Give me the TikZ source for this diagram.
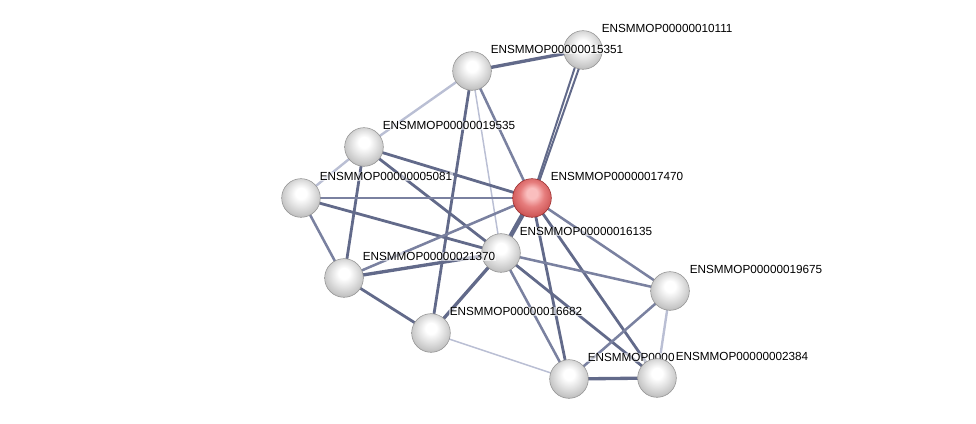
\documentclass[tikz,border=0pt]{standalone}
\usepackage{fontspec}
\setmainfont{Liberation Sans}
\definecolor{edark}{RGB}{98,106,138}
\definecolor{emid}{RGB}{122,129,160}
\definecolor{elite}{RGB}{186,191,212}
\definecolor{ghi}{RGB}{255,255,255}
\definecolor{gmid}{RGB}{228,228,228}
\definecolor{glow}{RGB}{196,196,196}
\definecolor{grim}{RGB}{145,145,145}
\definecolor{rhi}{RGB}{250,190,190}
\definecolor{rmid}{RGB}{230,125,125}
\definecolor{rlow}{RGB}{208,90,90}
\definecolor{rrim}{RGB}{150,40,40}
\pgfdeclareradialshading{graysphere}{\pgfpoint{0bp}{7bp}}{color(0bp)=(ghi); color(7bp)=(ghi); color(16bp)=(gmid); color(26bp)=(glow); color(33bp)=(grim); color(50bp)=(grim)}
\pgfdeclareradialshading{redsphere}{\pgfpoint{0bp}{7bp}}{color(0bp)=(rhi); color(7bp)=(rhi); color(16bp)=(rmid); color(26bp)=(rlow); color(33bp)=(rrim); color(50bp)=(rrim)}
\pgfdeclarelayer{edgelayer}
\pgfsetlayers{edgelayer,main}
\begin{document}
\begin{tikzpicture}[x=0.75pt,y=-0.75pt,
  ball/.style={circle, minimum size=29pt, inner sep=0pt, shading=graysphere, draw=grim, line width=0.4pt},
  redball/.style={ball, shading=redsphere, draw=rrim},
  lbl/.style={anchor=base west, font=\fontsize{8.8}{10}\selectfont, inner sep=0.4pt, fill=white, fill opacity=0.6, text opacity=1},
  ethick/.style={draw=edark, line width=2.5pt},
  edk/.style={draw=edark, line width=2.1pt},
  emed/.style={draw=emid, line width=1.9pt},
  elight/.style={draw=elite, line width=1.8pt},
  ethin/.style={draw=elite, line width=1.1pt}]
\useasboundingbox (0,0) rectangle (976,424);
% nodes
\node[ball] (A) at (583,50) {};
\node[ball] (B) at (472,71) {};
\node[ball] (C) at (364,147) {};
\node[ball] (D) at (301,198) {};
\node[ball] (F) at (501,253) {};
\node[redball] (E) at (532,198) {};
\node[ball] (G) at (344,278) {};
\node[ball] (I) at (431,333) {};
\node[ball] (H) at (670,291) {};
\node[ball] (J) at (569,379) {};
% labels
\node[lbl] (lA) at (601,32.5) {ENSMMOP00000010111};
\node[lbl] (lB) at (490,53.5) {ENSMMOP00000015351};
\node[lbl] (lC) at (382,129.5) {ENSMMOP00000019535};
\node[lbl] (lD) at (319,180.5) {ENSMMOP00000005081};
\node[lbl] (lG) at (362,260.5) {ENSMMOP00000021370};
\node[lbl] (lI) at (449,315.5) {ENSMMOP00000016682};
\node[lbl] (lF) at (519,235.5) {ENSMMOP00000016135};
\node[lbl] (lE) at (550,181) {ENSMMOP00000017470};
\node[lbl] (lH) at (689,273.5) {ENSMMOP00000019675};
\node[lbl] (lJ) at (587,361.5) {ENSMMOP0000};
\node[ball] (K) at (657,378) {};
\node[lbl, fill opacity=1] (lK) at (675,360.5) {ENSMMOP00000002384};
% edges
\begin{pgfonlayer}{edgelayer}
\draw[ethick] (A.center) -- (B.center);
\draw[draw=edark, line width=1.5pt] ([xshift=-1.8pt]A.center) -- (E.center);
\draw[draw=edark, line width=1.5pt] ([xshift=1.8pt]A.center) -- ([xshift=1pt]E.center);
\draw[elight] (B.center) -- (C.center);
\draw[elight] (C.center) -- (D.center);
\draw[edk] (B.center) -- (I.center);
\draw[emed] (B.center) -- (E.center);
\draw[ethin] (B.center) -- (F.center);
\draw[edk] (C.center) -- (E.center);
\draw[edk] (C.center) -- (F.center);
\draw[edk] (C.center) -- (G.center);
\draw[emed] (D.center) -- (E.center);
\draw[edk] (D.center) -- (F.center);
\draw[emed] (D.center) -- (G.center);
\draw[draw=edark, line width=3.4pt] (E.center) -- (F.center);
\draw[emed] (E.center) -- (G.center);
\draw[emed] (E.center) -- (H.center);
\draw[edk] (E.center) -- (J.center);
\draw[edk] (E.center) -- (K.center);
\draw[ethick] (F.center) -- (G.center);
\draw[emed] (F.center) -- (H.center);
\draw[ethick] (F.center) -- (I.center);
\draw[emed] (F.center) -- (J.center);
\draw[edk] (F.center) -- (K.center);
\draw[edk] (G.center) -- (I.center);
\draw[ethin] (I.center) -- (J.center);
\draw[emed] (H.center) -- (J.center);
\draw[elight] (H.center) -- (K.center);
\draw[ethick] (J.center) -- (K.center);
\end{pgfonlayer}
\end{tikzpicture}
\end{document}
